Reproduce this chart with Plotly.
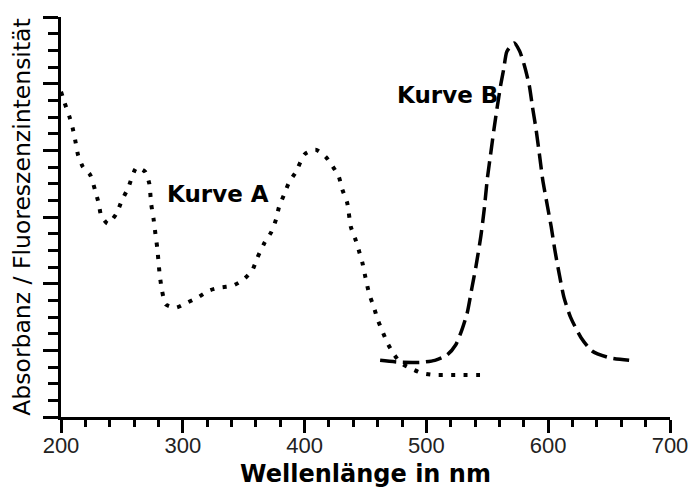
import plotly.graph_objects as go

# Curve A (absorbance, dotted)
curve_a_x = [200, 203, 207, 209.5, 212, 214, 218, 224, 228, 231, 233, 238.5, 245.5, 250, 255, 262,
             269, 272.5, 274, 276, 277.5, 279, 280, 281, 283, 286, 294.5, 304, 312, 322, 330, 341,
             349, 357, 361, 367, 372.5, 376.5, 379, 383, 387, 393, 400, 409, 417, 423, 428, 431,
             435, 438, 442, 445, 447.5, 450, 453, 457, 460, 464, 468, 473, 479, 487, 496, 507,
             518, 530, 547]
curve_a_y = [4.88, 4.71, 4.50, 4.34, 4.12, 3.93, 3.75, 3.63, 3.40, 3.20, 3.02, 2.90, 3.05, 3.25, 3.43, 3.74,
             3.68, 3.50, 3.20, 2.97, 2.75, 2.54, 2.34, 2.14, 1.89, 1.69, 1.64, 1.72, 1.79, 1.90, 1.94, 1.97,
             2.05, 2.20, 2.38, 2.61, 2.77, 2.96, 3.15, 3.33, 3.51, 3.68, 3.94, 4.01, 3.91, 3.76, 3.61, 3.41,
             3.21, 2.85, 2.65, 2.47, 2.31, 2.09, 1.85, 1.64, 1.46, 1.28, 1.11, 0.95, 0.81, 0.73, 0.66, 0.63,
             0.63, 0.63, 0.63]

# Curve B (fluorescence, dashed)
curve_b_x = [462, 480, 496, 507, 517, 524, 529, 533.5, 537.5, 540.7, 544.7, 547.5, 550, 553, 555.6, 558,
             561, 563.6, 566, 572, 576.5, 580.5, 584.5, 587, 590, 593, 595.5, 599.5, 602.5, 605.5, 609,
             613, 618.5, 627, 636, 650, 672]
curve_b_y = [0.85, 0.82, 0.82, 0.85, 0.93, 1.08, 1.30, 1.56, 1.95, 2.26, 2.71, 3.12, 3.57, 3.98, 4.33, 4.63,
             4.98, 5.23, 5.48, 5.61, 5.49, 5.27, 4.97, 4.66, 4.32, 3.91, 3.56, 3.15, 2.85, 2.50, 2.15,
             1.79, 1.49, 1.19, 0.99, 0.89, 0.84]

x_tick_vals = [200, 300, 400, 500, 600, 700]
x_tick_text = ["200", "300", "400", "500", "600", "700"]

labels = ["Kurve A", "Kurve B"]
label_x = [328.5, 517]
label_y = [3.34, 4.83]

fig = go.Figure()
fig.add_trace(go.Scatter(x=curve_a_x, y=curve_a_y, mode="lines",
                         line=dict(color="black", width=4, dash="4px,8.5px",
                                   shape="spline", smoothing=0.6),
                         showlegend=False, hoverinfo="skip"))
fig.add_trace(go.Scatter(x=curve_b_x, y=curve_b_y, mode="lines",
                         line=dict(color="black", width=3.5, dash="16px,7px",
                                   shape="spline", smoothing=0.6),
                         showlegend=False, hoverinfo="skip"))

for t, lx, ly in zip(labels, label_x, label_y):
    fig.add_annotation(x=lx, y=ly, text=f"<b>{t}</b>", showarrow=False,
                       font=dict(family="DejaVu Sans", size=23, color="black"),
                       xanchor="center", yanchor="middle")

# The page body adds an 8px offset, so the figure is 8px smaller than the window
fig.update_layout(
    width=690, height=481,
    margin=dict(l=53, r=28, t=9, b=72, autoexpand=False),
    paper_bgcolor="white", plot_bgcolor="white",
    showlegend=False,
    xaxis=dict(range=[200, 700], tickvals=x_tick_vals, ticktext=x_tick_text,
               automargin=False,
               showgrid=False, zeroline=False,
               showline=True, linecolor="black", linewidth=3,
               ticks="outside", ticklen=13, tickwidth=3, tickcolor="black",
               ticklabelstandoff=-6,
               tickfont=dict(family="Liberation Sans", size=22, color="#222"),
               minor=dict(dtick=20, ticks="outside", ticklen=7, tickwidth=3,
                          tickcolor="black", showgrid=False),
               title=dict(text="<b>Wellenlänge in nm</b>", standoff=8,
                          font=dict(family="DejaVu Sans", size=24, color="black"))),
    yaxis=dict(range=[0, 6], dtick=1, showticklabels=False,
               automargin=False,
               showgrid=False, zeroline=False,
               showline=True, linecolor="black", linewidth=3,
               ticks="outside", ticklen=15, tickwidth=3, tickcolor="black",
               minor=dict(dtick=0.25, ticks="outside", ticklen=10, tickwidth=3,
                          tickcolor="black", showgrid=False),
               title=dict(text="Absorbanz / Fluoreszenzintensität", standoff=6,
                          font=dict(family="DejaVu Sans", size=23.5, color="black"))),
)

fig.write_html("out.html")
